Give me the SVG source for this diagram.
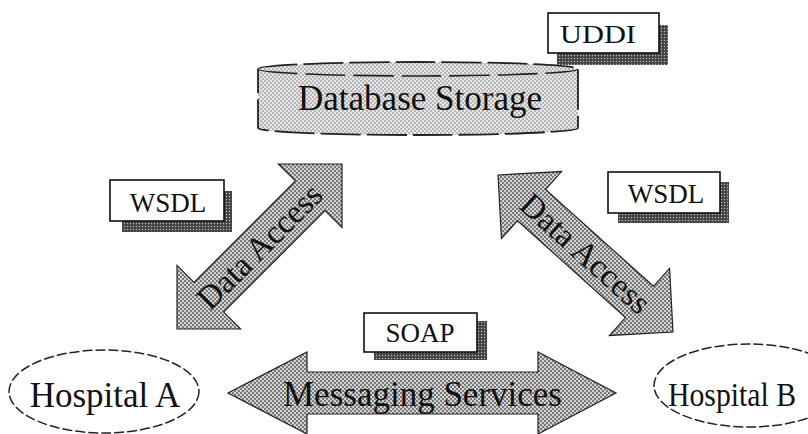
<svg xmlns="http://www.w3.org/2000/svg" width="808" height="434" viewBox="0 0 808 434">
  <defs>
    <pattern id="dbPat" width="4" height="4" patternUnits="userSpaceOnUse">
      <rect width="4" height="4" fill="#e6e6e6"/>
      <circle cx="1" cy="1" r="0.9" fill="#a0a0a0"/>
      <circle cx="3" cy="3" r="0.9" fill="#a0a0a0"/>
    </pattern>
    <pattern id="arrowPat" width="4" height="4" patternUnits="userSpaceOnUse">
      <rect width="4" height="4" fill="#d2d2d2"/>
      <circle cx="1" cy="1" r="0.95" fill="#555"/>
      <circle cx="3" cy="3" r="0.95" fill="#555"/>
    </pattern>
    <pattern id="shadowPat" width="3" height="3" patternUnits="userSpaceOnUse">
      <rect width="3" height="3" fill="#444"/>
      <circle cx="1.5" cy="1.5" r="0.7" fill="#bbb"/>
    </pattern>
    <style>
      .lbl { font-family: "Liberation Serif", "Times New Roman", serif; fill: #111; }
      .box { fill: #fff; stroke: #111; stroke-width: 1.6; }
      .shadow { fill: url(#shadowPat); stroke: none; }
      .arrow { fill: url(#arrowPat); stroke: #222; stroke-width: 1.2; stroke-linejoin: miter; }
      .oval { fill: #fff; stroke: #222; stroke-width: 1.5; stroke-dasharray: 10 3; }
    </style>
  </defs>

  <rect width="808" height="434" fill="#fff"/>

  <g id="node-database">
    <path d="M258,69 A160,7 0 0 1 578,69 L578,128 A160,7 0 0 1 258,128 Z" fill="url(#dbPat)" stroke="#222" stroke-width="1.8" stroke-dasharray="40 6"/>
    <path d="M258,69 A160,7 0 0 0 578,69" fill="none" stroke="#222" stroke-width="1.6" stroke-dasharray="40 8"/>
    <text class="lbl" x="420" y="110" font-size="35" text-anchor="middle">Database Storage</text>
  </g>

  <g id="node-uddi">
    <rect class="shadow" x="557" y="25" width="111" height="40"/>
    <rect class="box" x="548" y="13" width="111" height="40"/>
    <text class="lbl" x="598" y="43" font-size="26" text-anchor="middle" textLength="76" lengthAdjust="spacingAndGlyphs">UDDI</text>
  </g>

  <g id="node-wsdl-left">
    <rect class="shadow" x="122" y="191" width="110" height="41"/>
    <rect class="box" x="110" y="180" width="114" height="41"/>
    <text class="lbl" x="168" y="212" font-size="27" text-anchor="middle">WSDL</text>
  </g>

  <g id="node-wsdl-right">
    <rect class="shadow" x="618" y="182" width="111" height="41"/>
    <rect class="box" x="608" y="172" width="112" height="41"/>
    <text class="lbl" x="666" y="203" font-size="27" text-anchor="middle">WSDL</text>
  </g>

  <g id="node-soap">
    <rect class="shadow" x="374" y="321" width="113" height="39"/>
    <rect class="box" x="364" y="313" width="113" height="39"/>
    <text class="lbl" x="420" y="342" font-size="27" text-anchor="middle">SOAP</text>
  </g>

  <g id="node-hospital-a">
    <ellipse class="oval" cx="104" cy="391.5" rx="95" ry="41.5"/>
    <text class="lbl" x="105" y="407" font-size="35" text-anchor="middle">Hospital A</text>
  </g>

  <g id="node-hospital-b">
    <ellipse class="oval" cx="749" cy="385.5" rx="95" ry="41.5"/>
    <text class="lbl" x="668" y="406" font-size="34" textLength="128" lengthAdjust="spacingAndGlyphs">Hospital B</text>
  </g>

  <g id="connectors">
    <g id="conn-data-access-left">
      <polygon class="arrow" points="177,329 240.6,329 223.65,312.05 325.05,210.65 342,227.6 342,164 278.4,164 295.35,180.95 193.95,282.35 177,265.4"/>
      <text class="lbl" font-size="33" text-anchor="middle" transform="translate(259.5,246.5) rotate(-45)" y="11">Data Access</text>
    </g>
    <g id="conn-data-access-right">
      <polygon class="arrow" points="498,175 561.55,171.55 545.52,189.42 653.52,286.32 669.55,268.45 673,332 609.45,335.45 625.48,317.58 517.48,220.68 501.45,238.55"/>
      <text class="lbl" font-size="33" text-anchor="middle" transform="translate(585.5,253.5) rotate(41.9)" y="11">Data Access</text>
    </g>
    <g id="conn-messaging">
      <polygon class="arrow" points="228,393 307,352 307,372 538,372 538,352 616,393 538,434 538,414 307,414 307,434"/>
      <text class="lbl" x="422.5" y="406" font-size="35" text-anchor="middle">Messaging Services</text>
    </g>
  </g>
</svg>
